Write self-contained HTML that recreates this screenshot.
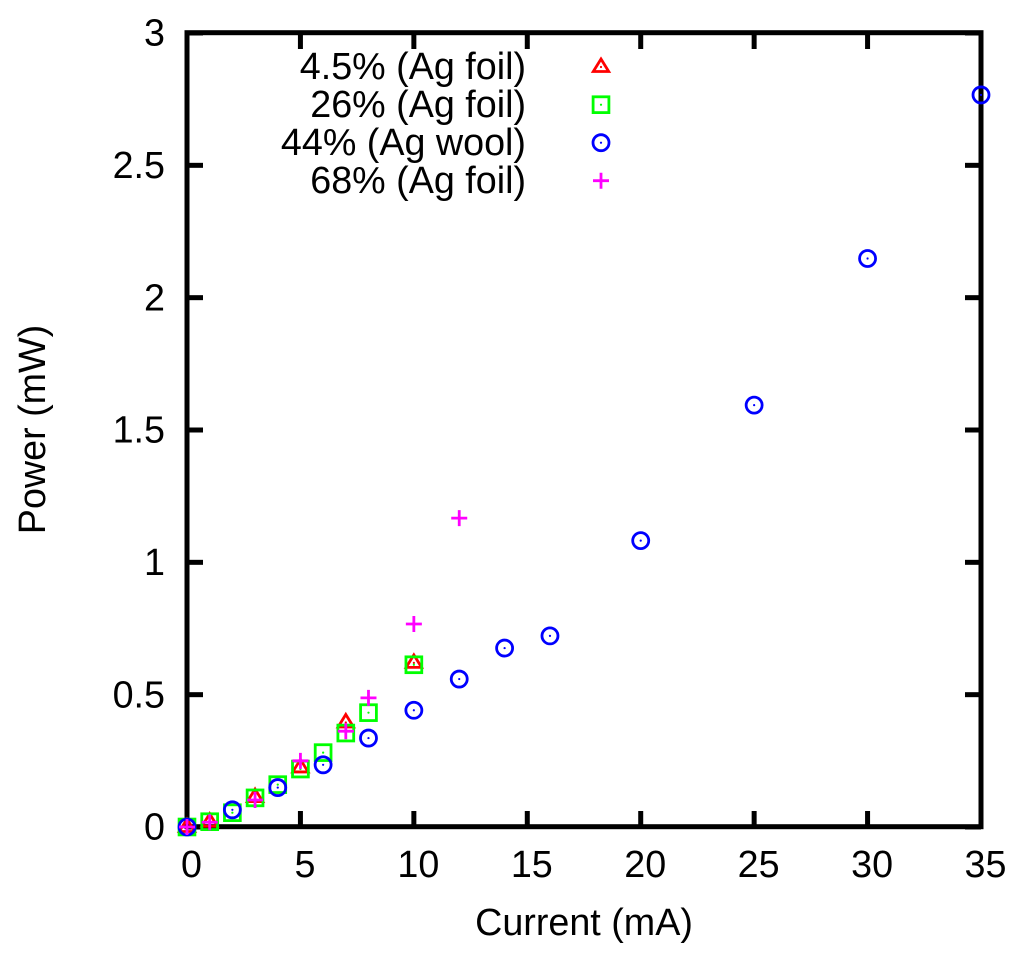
<!DOCTYPE html>
<html lang="en">
<head>
<meta charset="utf-8">
<title>Power vs Current</title>
<style>
html,body{margin:0;padding:0;background:#fff;}
svg{display:block;}
text{font-family:"Liberation Sans",sans-serif;font-size:37.7px;fill:#000;}
</style>
</head>
<body>
<svg id="chart" xmlns="http://www.w3.org/2000/svg" width="1024" height="960" viewBox="0 0 1024 960">
  <g id="ticks"></g>
  <g id="xlabels"></g>
  <g id="ylabels"></g>
  <rect x="187" y="32.7" width="794" height="794" fill="none" stroke="#000" stroke-width="5"/>
  <text x="584" y="935" text-anchor="middle">Current (mA)</text>
  <text x="45" y="429.5" text-anchor="middle" transform="rotate(-90 45 429.5)">Power (mW)</text>
  <g id="series"></g>
  <g>
    <text x="526" y="79" text-anchor="end">4.5% (Ag foil)</text>
    <text x="526" y="117" text-anchor="end">26% (Ag foil)</text>
    <text x="526" y="155" text-anchor="end">44% (Ag wool)</text>
    <text x="526" y="193" text-anchor="end">68% (Ag foil)</text>
    <g id="legend-markers"></g>
  </g>
</svg>
<script>
const xTicks = [0, 5, 10, 15, 20, 25, 30, 35];
const yTicks = [0, 0.5, 1, 1.5, 2, 2.5, 3];

const foil45X = [0, 1, 3, 5, 7, 10];
const foil45Y = [0, 0.02, 0.113, 0.225, 0.395, 0.62];

const foil26X = [0, 1, 2, 3, 4, 5, 6, 7, 8, 10];
const foil26Y = [0, 0.02, 0.054, 0.11, 0.16, 0.219, 0.281, 0.355, 0.432, 0.613];

const wool44X = [0, 2, 4, 6, 8, 10, 12, 14, 16, 20, 25, 30, 35];
const wool44Y = [0, 0.065, 0.149, 0.235, 0.336, 0.441, 0.559, 0.676, 0.722, 1.082, 1.594, 2.148, 2.766];

const foil68X = [0, 1, 3, 5, 7, 8, 10, 12];
const foil68Y = [0, 0.018, 0.102, 0.25, 0.362, 0.488, 0.767, 1.167];

const NS = 'http://www.w3.org/2000/svg';
const xScale = v => 187 + v * (794 / 35);
const yScale = v => 827 - v * (794 / 3);

function make(tag, attrs, parent) {
  const el = document.createElementNS(NS, tag);
  for (const k in attrs) el.setAttribute(k, attrs[k]);
  parent.appendChild(el);
  return el;
}

const ticksG = document.getElementById('ticks');
const xLabG = document.getElementById('xlabels');
const yLabG = document.getElementById('ylabels');

xTicks.forEach(t => {
  const x = xScale(t);
  const bottom = make('line', {x1: x, x2: x, y1: 827, y2: 811, stroke: '#000', 'stroke-width': 5}, ticksG);
  
  
  const top = make('line', {x1: x, x2: x, y1: 33, y2: 49, stroke: '#000', 'stroke-width': 5}, ticksG);
  
  
  const lab = make('text', {x: x + 4.5, y: 877, 'text-anchor': 'middle'}, xLabG);
  
  
  lab.textContent = String(t);
});

yTicks.forEach(t => {
  const y = yScale(t);
  const left = make('line', {x1: 187, x2: 203, y1: y, y2: y, stroke: '#000', 'stroke-width': 5}, ticksG);
  
  
  const right = make('line', {x1: 981, x2: 965, y1: y, y2: y, stroke: '#000', 'stroke-width': 5}, ticksG);
  
  
  const lab = make('text', {x: 165, y: y + 12.7, 'text-anchor': 'end'}, yLabG);
  
  
  lab.textContent = String(t);
});

function marker(kind, cx, cy, color, parent) {
  const g = make('g', {fill: 'none', stroke: color, 'stroke-width': 2.8}, parent);
  if (kind === 'triangle') {
    make('path', {d: `M${cx} ${cy - 8}L${cx + 7.7} ${cy + 4.5}L${cx - 7.7} ${cy + 4.5}Z`}, g);
  } else if (kind === 'square') {
    make('rect', {x: cx - 7.9, y: cy - 7.9, width: 15.8, height: 15.8}, g);
  } else if (kind === 'circle') {
    make('circle', {cx: cx, cy: cy, r: 8}, g);
  } else {
    make('path', {d: `M${cx - 8} ${cy}H${cx + 8}M${cx} ${cy - 8}V${cy + 8}`}, g);
  }
  if (kind !== 'plus') {
    make('circle', {cx: cx, cy: cy, r: 1.1, fill: color, stroke: 'none'}, g);
  }
  return g;
}

const seriesG = document.getElementById('series');
const legendG = document.getElementById('legend-markers');

function drawSeries(name, kind, color, xs, ys, legendY) {
  const group = make('g', {}, seriesG);
  
  
  xs.forEach((x, i) => {
    const m = marker(kind, xScale(x), yScale(ys[i]), color, group);
    
    
  });
  const lm = marker(kind, 601, legendY, color, legendG);
  
  
}

drawSeries('series-4-5-percent-ag-foil', 'triangle', '#ff0000', foil45X, foil45Y, 67);
drawSeries('series-26-percent-ag-foil', 'square', '#00ff00', foil26X, foil26Y, 104.7);
drawSeries('series-44-percent-ag-wool', 'circle', '#0000ff', wool44X, wool44Y, 142.7);
drawSeries('series-68-percent-ag-foil', 'plus', '#ff00ff', foil68X, foil68Y, 180.7);
</script>
</body>
</html>
